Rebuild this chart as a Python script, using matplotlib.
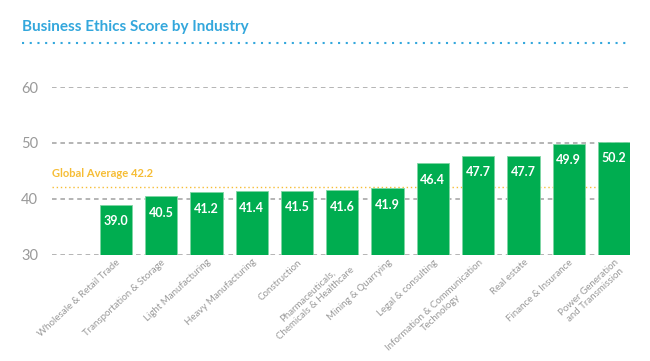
import matplotlib.pyplot as plt
from matplotlib.lines import Line2D

plt.rcParams['font.family'] = ['Lato', 'DejaVu Sans']

industries = ['Wholesale & Retail Trade', 'Transportation & Storage', 'Light Manufacturing',
              'Heavy Manufacturing', 'Construction', 'Pharmaceuticals,\nChemicals & Healthcare',
              'Mining & Quarrying', 'Legal & consulting', 'Information & Communication\nTechnology',
              'Real estate', 'Finance & Insurance', 'Power Generation\nand Transmission']
scores = [39.0, 40.5, 41.2, 41.4, 41.5, 41.6, 41.9, 46.4, 47.7, 47.7, 49.9, 50.2]
global_avg = 42.2
yticks = [30, 40, 50, 60]

green = '#00ad50'
blue = '#33a7dc'
gold = '#f6bd35'
gray = '#8c8c8c'

fig = plt.figure(figsize=(6.5, 3.61), dpi=100)
ax = fig.add_axes([0.08, 0.294, 0.889, 0.465])

x = list(range(len(scores)))
ax.bar(x, [s - 30 for s in scores], bottom=30, width=0.71, color=green,
       edgecolor='#7fd6a4', linewidth=0.6, zorder=3)
for i, s in enumerate(scores):
    ax.text(i, s - 1.9, f'{s:.1f}', ha='center', va='top', color='white',
            fontsize=9, fontweight='bold', zorder=4)

ax.set_ylim(30, 60)
ax.set_xlim(-1.41, 11.35)
ax.set_yticks(yticks)
ax.yaxis.grid(True, linestyle=(0, (3, 2.5)), color='#a0a0a0', linewidth=1.1, zorder=0)
ax.tick_params(axis='y', length=0, labelsize=10.5, labelcolor='#999999', pad=10)
ax.tick_params(axis='x', length=0, labelsize=7, labelcolor='#9a9a9a', pad=2)
ax.set_xticks(x)
ax.set_xticklabels(industries, rotation=43, ha='right', rotation_mode='anchor',
                   multialignment='center')
for sp in ax.spines.values():
    sp.set_visible(False)

# global average
ax.axhline(global_avg, color=gold, linestyle=(0, (1, 2)), linewidth=1.0, zorder=2)
ax.text(-1.41, global_avg + 1.4, f'Global Average {global_avg}', color=gold,
        fontsize=8, fontweight='bold', ha='left', va='bottom')

# title + dotted rule
fig.text(22 / 650, 1 - 27 / 361, 'Business Ethics Score by Industry', color=blue,
         fontsize=11, fontweight='bold', ha='left', va='center')
fig.add_artist(Line2D([22 / 650, 630 / 650], [1 - 43 / 361, 1 - 43 / 361],
                      transform=fig.transFigure, color=blue, linestyle=(0, (1, 2.7)),
                      linewidth=1.5))

plt.savefig('out.png', dpi=100)
